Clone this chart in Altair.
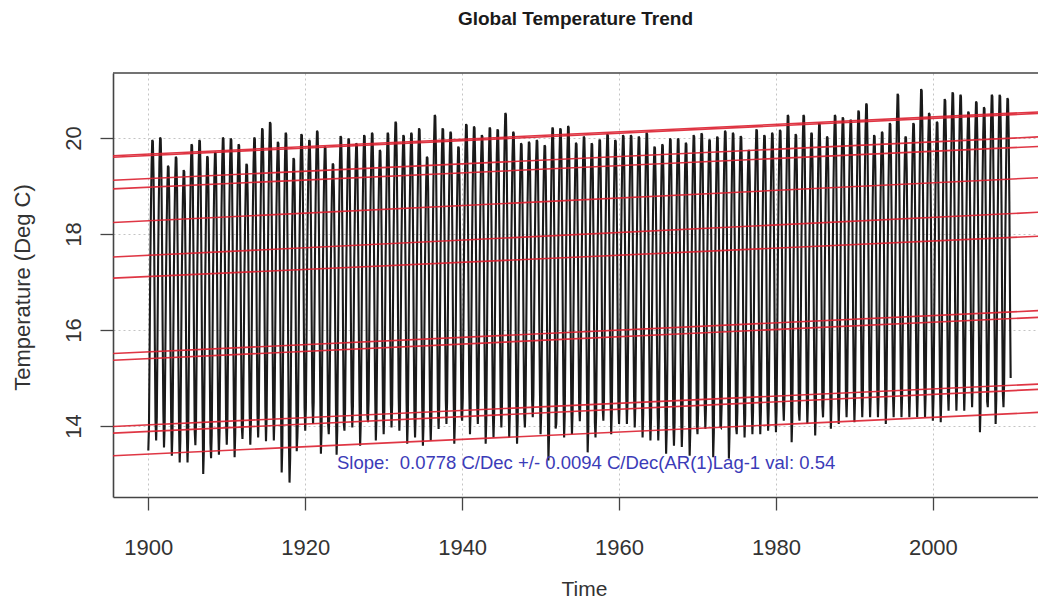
import altair as alt
import pandas as pd

# ---- data ----
years = list(range(1900, 2010))

# July (annual high) values, 1900-2009
peak_jul = [19.96, 20.01, 19.42, 19.61, 19.33, 19.87, 19.96, 19.62, 19.71, 20.01,
            19.99, 19.87, 19.46, 20.01, 20.20, 20.33, 19.92, 20.11, 19.58, 20.08,
            19.96, 20.15, 19.82, 19.47, 20.04, 19.99, 19.89, 20.06, 20.11, 19.75,
            20.11, 20.34, 20.06, 20.11, 20.20, 19.61, 20.48, 20.20, 20.13, 19.82,
            20.29, 20.24, 20.06, 20.22, 20.18, 20.52, 20.13, 19.89, 19.92, 19.96,
            19.85, 20.22, 20.20, 20.25, 19.90, 20.03, 19.89, 19.97, 20.08, 19.96,
            20.06, 20.06, 20.03, 20.11, 19.82, 19.87, 19.99, 19.99, 19.90, 20.06,
            20.10, 19.97, 20.03, 20.15, 20.11, 20.04, 19.75, 20.18, 20.06, 20.11,
            20.17, 20.48, 20.08, 20.48, 20.11, 20.31, 20.03, 20.48, 20.43, 20.38,
            20.57, 20.72, 20.06, 20.13, 20.31, 20.92, 20.03, 20.31, 21.02, 20.52,
            20.34, 20.81, 20.95, 20.90, 20.55, 20.76, 20.64, 20.90, 20.90, 20.83]

# January (annual low) values, 1900-2009
trough_jan = [13.49, 13.70, 13.55, 13.38, 13.24, 13.24, 13.60, 13.00, 13.33, 13.40,
              13.61, 13.35, 13.73, 13.61, 13.76, 13.68, 13.70, 13.03, 12.82, 13.76,
              13.90, 14.04, 13.42, 13.83, 13.40, 13.90, 13.97, 13.59, 14.08, 13.70,
              13.83, 13.97, 13.90, 13.63, 13.76, 13.59, 13.70, 13.94, 14.04, 13.63,
              14.11, 13.83, 14.04, 13.63, 13.76, 13.97, 13.76, 13.63, 13.97, 14.18,
              13.83, 13.28, 14.04, 13.76, 13.83, 14.10, 13.45, 13.76, 14.11, 13.83,
              14.04, 14.04, 13.97, 13.76, 13.70, 13.70, 13.42, 13.59, 13.56, 13.38,
              13.83, 13.94, 13.35, 13.97, 13.32, 13.83, 13.76, 13.83, 13.83, 13.90,
              13.87, 14.11, 13.66, 14.11, 14.04, 13.80, 14.18, 13.94, 14.04, 14.18,
              14.08, 14.18, 14.18, 14.18, 14.04, 14.18, 14.18, 14.18, 14.18, 14.18,
              14.11, 14.08, 14.32, 14.32, 14.32, 14.39, 13.87, 14.39, 14.04, 14.39]

months = ["Jan", "Feb", "Mar", "Apr", "May", "Jun",
          "Jul", "Aug", "Sep", "Oct", "Nov", "Dec"]
# monthly trend lines, value at the left and right ends of the frame
trend_x = [1895.5, 2014.4]
trend_left = [13.38, 13.85, 15.37, 17.08, 18.24, 19.12, 19.63, 19.60, 18.94, 17.52, 15.51, 13.99]
trend_right = [14.29, 14.77, 16.27, 17.96, 19.18, 20.03, 20.55, 20.52, 19.83, 18.46, 16.41, 14.88]

x_ticks = [1900, 1920, 1940, 1960, 1980, 2000]
y_ticks = [14, 16, 18, 20]
x_domain = [1895.5, 2013.4]
y_domain = [12.52, 21.354]

note = "Slope:\u00a0 0.0778 C/Dec +/- 0.0094 C/Dec(AR(1)Lag-1 val: 0.54"
note_pos = {"t": 1955.8, "v": 13.23}

# ---- tables ----
def trend_at(m, t):
    a, b = trend_left[m], trend_right[m]
    return a + (b - a) * (t - trend_x[0]) / (trend_x[1] - trend_x[0])

rows = []
for i, yr in enumerate(years):
    for m in range(12):
        t = yr + m / 12.0
        lo, hi = trend_at(0, t), trend_at(6, t)
        frac = (trend_at(m, t) - lo) / (hi - lo)
        rows.append({"t": t, "v": trough_jan[i] + frac * (peak_jul[i] - trough_jan[i])})
series = pd.DataFrame(rows)

trends = pd.DataFrame({
    "month": months,
    "x0": [trend_x[0]] * 12, "x1": [trend_x[1]] * 12,
    "y0": trend_left, "y1": trend_right,
})

FONT = "Liberation Sans"
xs = alt.Scale(domain=x_domain, nice=False, zero=False)
ys = alt.Scale(domain=y_domain, nice=False, zero=False)

x_axis = alt.Axis(values=x_ticks, format="d", title="Time", grid=True,
                  gridDash=[2, 3], gridColor="#c4c4c4", gridWidth=1,
                  labelFont=FONT, labelFontSize=22, labelColor="#333333",
                  labelBaseline="middle", labelPadding=37,
                  tickSize=13, tickColor="#444444", tickWidth=1.3,
                  domainColor="#444444", domainWidth=1.6,
                  titleFont=FONT, titleFontSize=21, titleFontWeight="normal",
                  titleColor="#333333", titleX=471, titleY=92,
                  titleBaseline="middle", titleAlign="center")
y_axis = alt.Axis(values=y_ticks, format="d", title="Temperature (Deg C)", grid=True,
                  gridDash=[2, 3], gridColor="#c4c4c4", gridWidth=1,
                  labelFont=FONT, labelFontSize=22, labelColor="#333333",
                  labelAngle=270, labelAlign="center", labelBaseline="middle",
                  labelPadding=27,
                  tickSize=13, tickColor="#444444", tickWidth=1.3,
                  domainColor="#444444", domainWidth=1.6,
                  titleFont=FONT, titleFontSize=22, titleFontWeight="normal",
                  titleColor="#333333", titleX=-91, titleY=214, titleAngle=270,
                  titleBaseline="middle", titleAlign="center")

line = alt.Chart(series).mark_line(color="#1a1a1a", strokeWidth=2.1, clip=True).encode(
    x=alt.X("t:Q", scale=xs, axis=x_axis),
    y=alt.Y("v:Q", scale=ys, axis=y_axis),
)

rules = alt.Chart(trends).mark_rule(color="#dc2030", strokeWidth=1.6, clip=True, opacity=0.9).encode(
    x=alt.X("x0:Q", scale=xs), x2="x1:Q",
    y=alt.Y("y0:Q", scale=ys), y2="y1:Q",
)

text = alt.Chart(pd.DataFrame([{**note_pos, "label": note}])).mark_text(
    font=FONT, fontSize=18.5, color="#3b3bb8", align="center", baseline="middle"
).encode(x=alt.X("t:Q", scale=xs), y=alt.Y("v:Q", scale=ys), text="label:N")

top_border = alt.Chart(pd.DataFrame([{"k": 0}])).mark_rule(color="#444444", strokeWidth=1.6).encode(
    x=alt.value(0), x2=alt.value(925), y=alt.value(0)
)

chart = alt.layer(line, rules, text, top_border).properties(
    width=925, height=424,
    padding={"left": 105, "top": 65, "right": 0, "bottom": 105},
    autosize=alt.AutoSizeParams(type="none"),
    title=alt.Title("Global Temperature Trend", font=FONT, fontSize=19,
                    fontWeight="bold", color="#1a1a1a", anchor="middle", offset=43),
    background="white",
).configure_view(stroke=None)

chart.save("out.html", embed_options={"renderer": "svg", "actions": False})
